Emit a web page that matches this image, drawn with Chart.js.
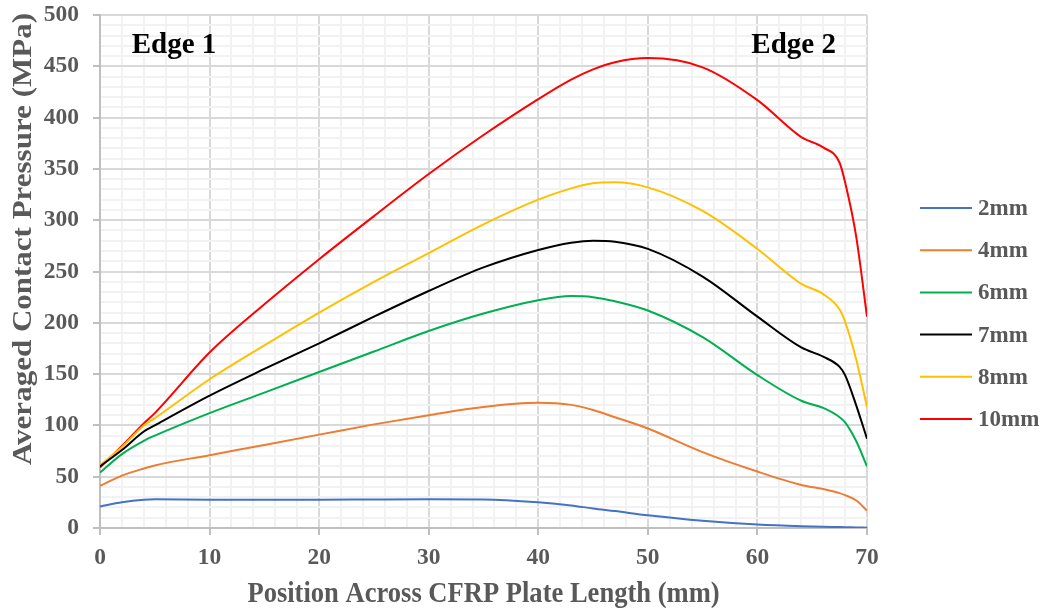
<!DOCTYPE html>
<html>
<head>
<meta charset="utf-8">
<script src="https://cdn.jsdelivr.net/npm/chart.js@4.4.1/dist/chart.umd.min.js"></script>
<style>
  html, body { margin: 0; padding: 0; background: #ffffff; }
  #wrap { width: 1047px; height: 613px; position: relative; }
</style>
</head>
<body>
<div id="wrap"><canvas id="c" width="1047" height="613"></canvas></div>
<script>
// Positions across the plate (mm) where pressure was sampled
const positions = [0, 2, 4, 5, 10, 15, 20, 25, 30, 35, 40, 43, 45, 47, 50, 55, 60, 64, 66, 67.5, 68, 69, 70];

// Averaged contact pressure (MPa) per insert depth
const p2mm  = [21, 25, 27.5, 28, 27.5, 27.5, 27.5, 27.8, 28, 27.8, 25, 22, 19, 16.5, 12.4, 7, 3.3, 1.6, 1.1, 0.9, 0.8, 0.5, 0.3];
const p4mm  = [41, 51, 58, 61, 71, 81, 91, 101, 110, 118, 122, 120, 115, 108, 97, 74, 55, 42, 38, 34, 32, 27, 17];
const p6mm  = [54, 72, 85, 90, 112, 132, 152, 172, 192, 209, 222, 226, 225, 221, 212, 186, 149, 124, 117, 108, 103, 85, 60];
const p7mm  = [60, 76, 94, 100, 129, 155, 180, 206, 231, 254, 271, 278, 280, 279, 272, 245, 206, 176, 167, 157, 149, 120, 87];
const p8mm  = [61, 79, 100, 107, 145, 178, 210, 240, 268, 296, 320, 331, 336, 337, 332, 309, 272, 238, 228, 213, 201, 165, 118];
const p10mm = [59, 80, 102, 112, 171, 218, 262, 304, 345, 383, 418, 437, 447, 454, 458, 449, 417, 381, 371, 356, 337, 285, 206];

const seriesNames = ['2mm', '4mm', '6mm', '7mm', '8mm', '10mm'];
const seriesColors = ['#4472c4', '#ed7d31', '#00b050', '#000000', '#ffc000', '#ff0000'];
const seriesValues = [p2mm, p4mm, p6mm, p7mm, p8mm, p10mm];

const xTicks = [0, 10, 20, 30, 40, 50, 60, 70];
const yTicks = [0, 50, 100, 150, 200, 250, 300, 350, 400, 450, 500];

const serif = '"Liberation Serif", "Times New Roman", serif';
const grey = '#595959';

const datasets = seriesNames.map((name, i) => ({
  label: name,
  data: positions.map((x, k) => ({ x: x, y: seriesValues[i][k] })),
  borderColor: seriesColors[i],
  backgroundColor: seriesColors[i],
  borderWidth: 2,
  pointRadius: 0,
  tension: 0.4,
  cubicInterpolationMode: 'monotone',
  fill: false
}));

// Legend, axis titles and edge labels drawn on the canvas
const decorations = {
  id: 'decorations',
  afterDraw(chart) {
    const ctx = chart.ctx;
    const xs = chart.scales.x, ys = chart.scales.y;
    ctx.save();
    // Edge labels
    ctx.fillStyle = '#000000';
    ctx.font = 'bold 29px ' + serif;
    ctx.textAlign = 'center';
    ctx.textBaseline = 'middle';
    ctx.fillText('Edge 1', xs.getPixelForValue(6.75), ys.getPixelForValue(470));
    ctx.fillText('Edge 2', xs.getPixelForValue(63.3), ys.getPixelForValue(470));
    // Axis titles (slightly condensed type)
    ctx.fillStyle = grey;
    ctx.font = 'bold 30px ' + serif;
    ctx.save();
    ctx.translate((chart.chartArea.left + chart.chartArea.right) / 2, 594);
    ctx.scale(0.885, 1);
    ctx.fillText('Position Across CFRP Plate Length (mm)', 0, 0);
    ctx.restore();
    ctx.font = 'bold 31px ' + serif;
    ctx.save();
    ctx.translate(24, 239);
    ctx.scale(0.885, 1);
    ctx.rotate(-Math.PI / 2);
    ctx.fillText('Averaged Contact Pressure (MPa)', 0, 0);
    ctx.restore();
    // Legend
    ctx.font = 'bold 23px ' + serif;
    ctx.textAlign = 'left';
    chart.data.datasets.forEach((ds, i) => {
      const y = 208 + i * 42.2;
      ctx.strokeStyle = ds.borderColor;
      ctx.lineWidth = 2;
      ctx.beginPath();
      ctx.moveTo(920, y);
      ctx.lineTo(972, y);
      ctx.stroke();
      ctx.fillStyle = grey;
      ctx.fillText(ds.label, 978, y + 1);
    });
    ctx.restore();
  }
};

const isMajorX = v => xTicks.includes(v);
const isMajorY = v => yTicks.includes(v);

new Chart(document.getElementById('c'), {
  type: 'line',
  data: { datasets: datasets },
  options: {
    responsive: false,
    animation: false,
    layout: { padding: { left: 0, right: 180, top: 15, bottom: 0 } },
    plugins: { legend: { display: false }, tooltip: { enabled: false } },
    scales: {
      x: {
        type: 'linear',
        min: 0, max: 70,
        afterFit(s) { s.height = 85; s.paddingLeft = 0; s.paddingRight = 0; },
        border: { color: '#bfbfbf', width: 2 },
        grid: {
          color: c => isMajorX(c.tick.value) ? '#d9d9d9' : '#f2f2f2',
          lineWidth: 2,
          tickColor: c => isMajorX(c.tick.value) ? '#bfbfbf' : 'rgba(0,0,0,0)',
          tickLength: 7,
          drawOnChartArea: true
        },
        ticks: {
          stepSize: 2,
          autoSkip: false,
          maxRotation: 0,
          padding: 9,
          color: grey,
          font: { family: serif, size: 23.5, weight: 'bold' },
          callback: v => isMajorX(v) ? String(v) : ''
        }
      },
      y: {
        min: 0, max: 500,
        afterFit(s) { s.width = 100; s.paddingTop = 0; s.paddingBottom = 0; },
        border: { color: '#bfbfbf', width: 2 },
        grid: {
          color: c => isMajorY(c.tick.value) ? '#d9d9d9' : '#f2f2f2',
          lineWidth: 2,
          tickColor: c => isMajorY(c.tick.value) ? '#bfbfbf' : 'rgba(0,0,0,0)',
          tickLength: 7
        },
        ticks: {
          stepSize: 10,
          autoSkip: false,
          padding: 14,
          color: grey,
          font: { family: serif, size: 23.5, weight: 'bold' },
          callback: v => isMajorY(v) ? String(v) : ''
        }
      }
    }
  },
  plugins: [decorations]
});
</script>
</body>
</html>
